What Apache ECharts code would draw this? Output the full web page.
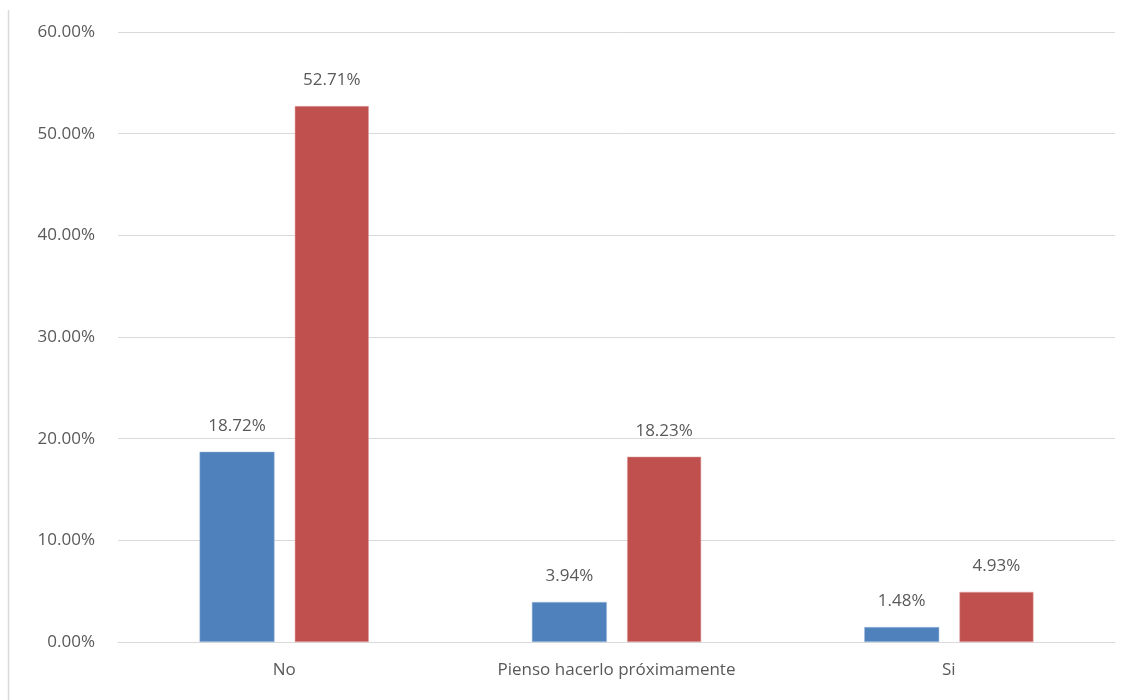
<!DOCTYPE html>
<html>
<head>
<meta charset="utf-8">
<script src="https://cdn.jsdelivr.net/npm/echarts@6/dist/echarts.min.js"></script>
<style>
html,body{margin:0;padding:0;background:#fff;}
#chart{width:1132px;height:700px;}
</style>
</head>
<body>
<div id="chart"></div>
<script>
const categories = ['No', 'Pienso hacerlo próximamente', 'Si'];
const seriesA = [18.72, 3.94, 1.48];
const seriesB = [52.71, 18.23, 4.93];

const chart = echarts.init(document.getElementById('chart'));
const fontFamily = '"Open Sans", "Noto Sans", sans-serif';
const labelCfg = {
  show: true,
  position: 'top',
  distance: 17,
  color: '#595959',
  fontSize: 17,
  fontFamily: fontFamily,
  formatter: p => p.value.toFixed(2) + '%'
};
chart.setOption({
  animation: false,
  grid: { left: 118, right: 17, top: 32, bottom: 58 },
  graphic: [{
    type: 'line',
    shape: { x1: 8.5, y1: 10, x2: 8.5, y2: 700 },
    style: { stroke: '#d9d9d9', lineWidth: 1.5 }
  }],
  xAxis: {
    type: 'category',
    data: categories,
    axisTick: { show: false },
    axisLine: { lineStyle: { color: '#d9d9d9', width: 1 } },
    axisLabel: { color: '#595959', fontSize: 17, fontFamily: fontFamily, margin: 20 }
  },
  yAxis: {
    type: 'value',
    min: 0, max: 60, interval: 10,
    axisLine: { show: false },
    axisTick: { show: false },
    splitLine: { lineStyle: { color: '#d9d9d9', width: 1 } },
    axisLabel: { color: '#595959', fontSize: 17, fontFamily: fontFamily, margin: 23,
      formatter: v => v.toFixed(2) + '%' }
  },
  series: [
    { type: 'bar', data: seriesA, barWidth: 75, barGap: '27%',
      itemStyle: { color: '#4f81bd', borderColor: '#a7c0de', borderWidth: 0.5 }, label: labelCfg },
    { type: 'bar', data: seriesB, barWidth: 74,
      itemStyle: { color: '#c0504d', borderColor: '#dfa7a6', borderWidth: 0.5 }, label: labelCfg }
  ]
});
</script>
</body>
</html>
